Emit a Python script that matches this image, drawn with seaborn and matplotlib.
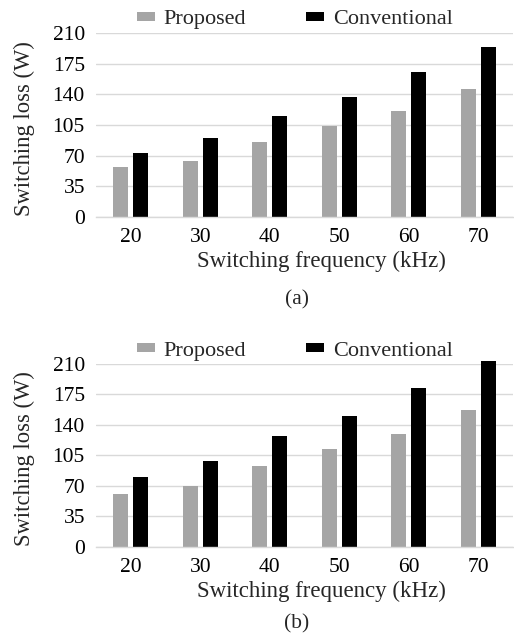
import matplotlib
matplotlib.use("Agg")
import matplotlib.pyplot as plt
import seaborn as sns
import pandas as pd

frequencies = ["20", "30", "40", "50", "60", "70"]
series_names = ["Proposed", "Conventional"]
proposed_a = [57, 64, 86, 104, 121, 146]
conventional_a = [72.5, 90.5, 115.5, 137, 165.5, 194]
proposed_b = [61, 69.5, 92.5, 112, 130, 157.5]
conventional_b = [80.5, 99, 127, 150.5, 182, 213]
yticks = [0, 35, 70, 105, 140, 175, 210]
panel_labels = ["(a)", "(b)"]

sns.set_style("white")
plt.rcParams["font.family"] = "serif"
plt.rcParams["font.serif"] = ["Liberation Serif", "DejaVu Serif"]

def make_df(p, c):
    rows = []
    for f, v in zip(frequencies, p):
        rows.append({"freq": f, "loss": v, "type": series_names[0]})
    for f, v in zip(frequencies, c):
        rows.append({"freq": f, "loss": v, "type": series_names[1]})
    return pd.DataFrame(rows)

fig = plt.figure(figsize=(5.14, 6.36), dpi=100)
W, H = 514, 636
left, right = 96 / W, 513 / W
ax_a = fig.add_axes([left, 1 - 216.7 / H, right - left, (216.7 - 33.3) / H])
ax_b = fig.add_axes([left, 1 - 546.7 / H, right - left, (546.7 - 364) / H])

fs = 15.5
grey = "#a5a5a5"
for ax, p, c, lab, ly, ply in [
    (ax_a, proposed_a, conventional_a, panel_labels[0], 1.073, 300),
    (ax_b, proposed_b, conventional_b, panel_labels[1], 1.071, 624),
]:
    df = make_df(p, c)
    sns.barplot(data=df, x="freq", y="loss", hue="type", order=frequencies,
                hue_order=series_names, palette=[grey, "black"],
                width=0.576, gap=0.25, ax=ax, saturation=1, errorbar=None)
    for patch in ax.patches:
        patch.set_clip_on(False)
        patch.set_linewidth(0)
    ax.set_ylim(0, 210)
    ax.set_xlim(-0.5, 5.5)
    ax.set_yticks(yticks)
    ax.yaxis.grid(True, color="#d9d9d9", linewidth=1)
    ax.set_axisbelow(True)
    for s in ["top", "right", "left"]:
        ax.spines[s].set_visible(False)
    ax.spines["bottom"].set_color("#d9d9d9")
    ax.spines["bottom"].set_linewidth(1)
    ax.tick_params(axis="both", length=0, labelsize=fs, colors="black")
    ax.tick_params(axis="y", pad=8)
    ax.tick_params(axis="x", pad=8)
    ax.set_ylabel("Switching loss (W)", fontsize=16.3)
    ax.yaxis.label.set_va("center")
    ax.yaxis.set_label_coords(-0.1727, 0.48)
    ax.set_xlabel("Switching frequency (kHz)", fontsize=16.5)
    ax.xaxis.label.set_va("center")
    ax.xaxis.set_label_coords(0.54, -45 / 183.4)
    handles, labels = ax.get_legend_handles_labels()
    ax.legend(handles, labels, loc="center left", bbox_to_anchor=(0.098, ly),
              ncol=2, frameon=False, fontsize=fs + 0.5, handlelength=0.8,
              handleheight=0.28, handletextpad=0.4, columnspacing=2.7,
              borderpad=0, borderaxespad=0)
    fig.text(297 / W, 1 - ply / H, lab, ha="center", va="center", fontsize=fs)

fig.savefig("out.png", dpi=100)
